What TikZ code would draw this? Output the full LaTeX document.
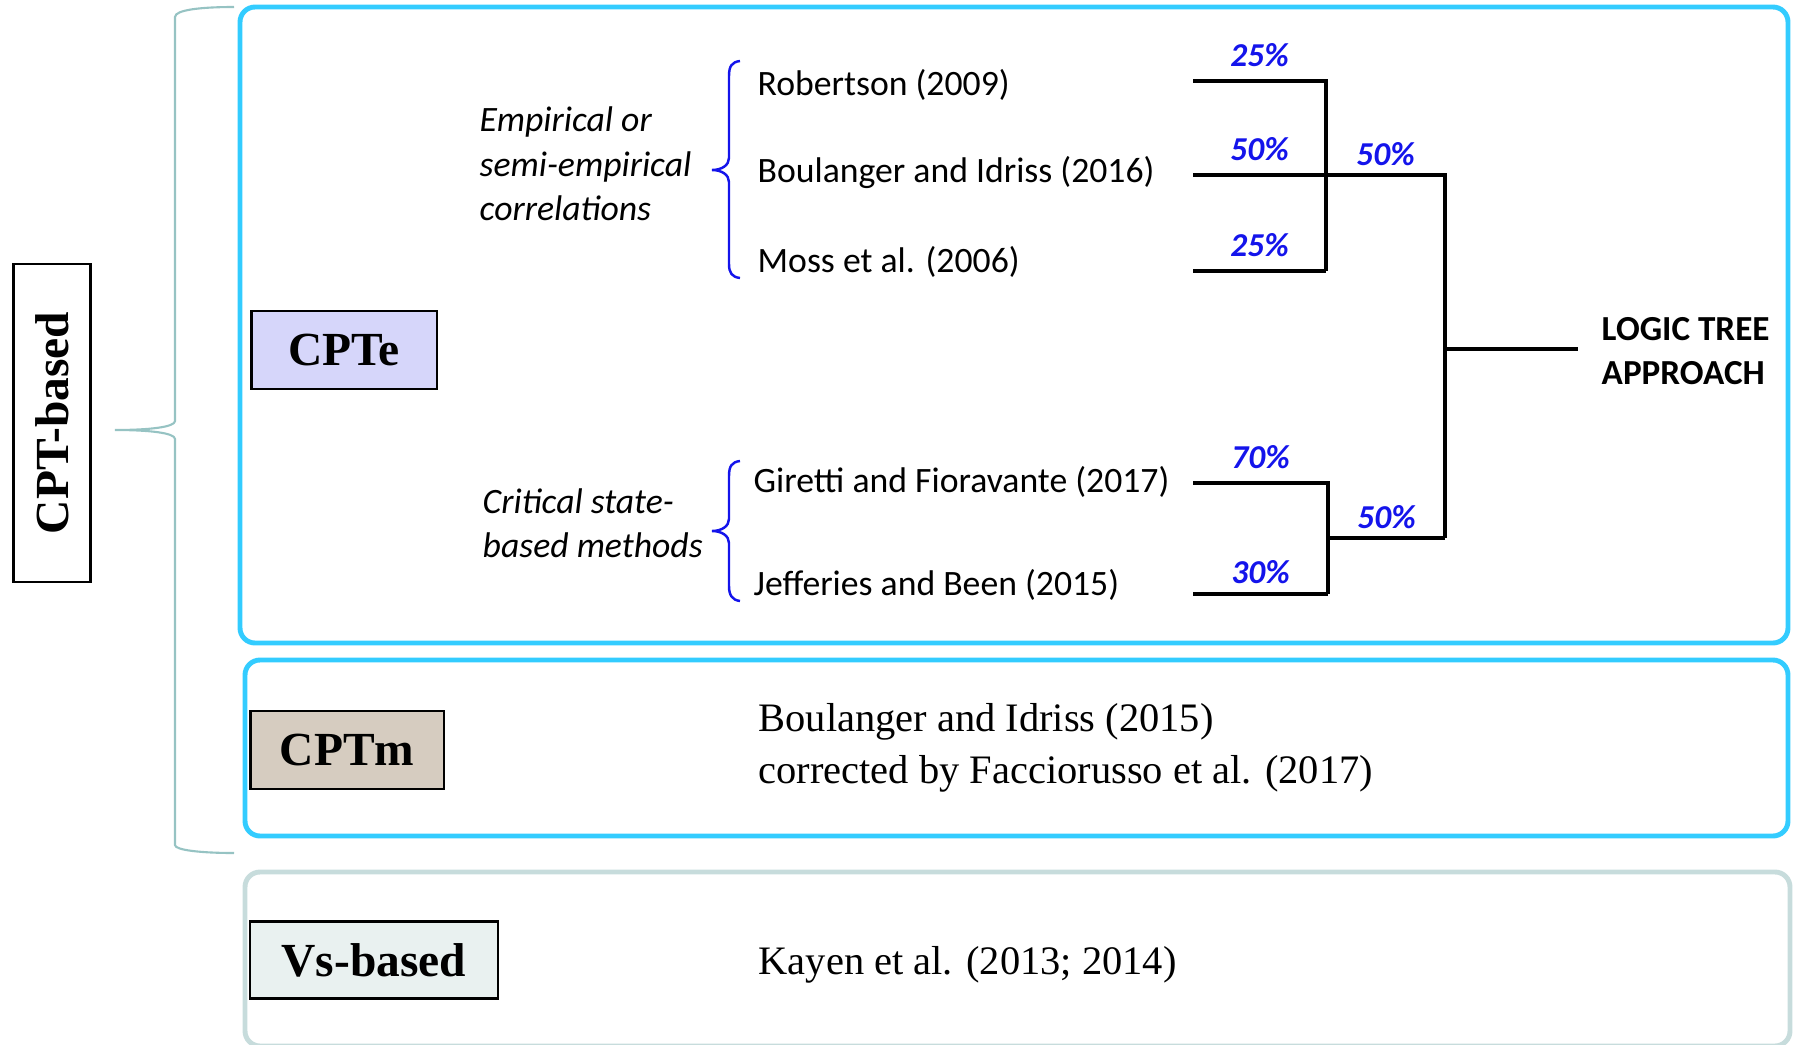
\documentclass[tikz,border=0pt]{standalone}
\usepackage{fontspec}
\setmainfont{Liberation Serif}
\newfontfamily\calibri{Carlito}
\usetikzlibrary{positioning}

\definecolor{frameblue}{RGB}{51,204,255}
\definecolor{framegrey}{RGB}{199,220,220}
\definecolor{bracegrey}{RGB}{150,195,195}
\definecolor{braceblue}{RGB}{20,20,235}
\definecolor{cptefill}{RGB}{214,214,250}
\definecolor{cptmfill}{RGB}{214,204,192}
\definecolor{vsfill}{RGB}{233,241,240}

\newcommand{\boxfont}{\bfseries\fontsize{13.5}{16}\selectfont}
\newcommand{\refsfont}{\fontsize{11.5}{14.8}\selectfont}
\newcommand{\treefont}{\calibri\fontsize{10.15}{12.6}\selectfont}

\tikzstyle{groupbox} = [line width=1.4pt, rounded corners=0.15cm]
\tikzstyle{labelbox} = [draw, line width=0.6pt, inner sep=0pt, font=\boxfont]
\tikzstyle{textnode} = [anchor=west, inner sep=0pt, align=left]
\tikzstyle{leaf} = [textnode, font=\treefont]
\tikzstyle{pct} = [above=3.5pt, inner sep=0pt, text=braceblue, font=\calibri\bfseries\itshape\fontsize{9.5}{11}\selectfont]
\tikzstyle{treeline} = [line width=1.1pt, line join=miter]
\tikzstyle{bluebrace} = [braceblue, line width=0.7pt]

\begin{document}
\begin{tikzpicture}[x=0.01cm, y=-0.01cm]
  \useasboundingbox (0,0) rectangle (1793,1045);

  % frames of the three groups
  \draw[groupbox, frameblue] (240,7) rectangle (1788,643);
  \draw[groupbox, frameblue] (245,660) rectangle (1788,836);
  \draw[groupbox, framegrey] (245,872) rectangle (1790,1046);

  % brace over CPTe and CPTm
  \draw[bracegrey, line width=0.6pt] (234,7) .. controls (200,7) and (175,10) .. (175,17)
    -- (175,421) .. controls (175,427) and (150,430) .. (115,430)
    .. controls (150,430) and (175,433) .. (175,439)
    -- (175,845) .. controls (175,850) and (200,853) .. (234,853);

  \node[labelbox, rotate=90, minimum width=3.18cm, minimum height=0.77cm] (cptbased) at (52,423) {CPT-based};
  \node[labelbox, fill=cptefill, minimum width=1.85cm, minimum height=0.78cm] (cpte) at (344,350) {CPTe};
  \node[labelbox, fill=cptmfill, minimum width=1.93cm, minimum height=0.78cm] (cptm) at (347,750) {CPTm};
  \node[labelbox, fill=vsfill, minimum width=2.47cm, minimum height=0.77cm] (vs) at (374,960) {Vs-based};

  % empirical correlations
  \node[leaf, font=\treefont\itshape] (emp) at (479,164) {Empirical or\\semi-empirical\\correlations};
  \node[leaf] (rob) at (757,85) {Robertson (2009)};
  \node[leaf] (bi16) at (757,173) {Boulanger and Idriss (2016)};
  \node[leaf] (moss) at (757,262) {Moss et al. (2006)};
  \draw[bluebrace] (740,61) .. controls (732,62) and (729,66) .. (729,76)
    -- (729,158) .. controls (729,165) and (722,170) .. (712,170)
    .. controls (722,170) and (729,175) .. (729,182)
    -- (729,264) .. controls (729,273) and (732,277) .. (740,278);

  % critical state methods
  \node[leaf, font=\treefont\itshape] (crit) at (482,523) {Critical state-\\based methods};
  \node[leaf] (gf) at (753,482) {Giretti and Fioravante (2017)};
  \node[leaf] (jb15) at (753,585) {Jefferies and Been (2015)};
  \draw[bluebrace] (740,461) .. controls (732,462) and (729,466) .. (729,476)
    -- (729,519) .. controls (729,526) and (722,531) .. (712,531)
    .. controls (722,531) and (729,536) .. (729,543)
    -- (729,586) .. controls (729,595) and (732,600) .. (740,601);

  % logic tree
  \coordinate (a1) at (1193,81);
  \coordinate (a2) at (1193,175);
  \coordinate (a3) at (1193,271);
  \coordinate (ja) at (1326,175);
  \coordinate (jc) at (1445,175);
  \coordinate (b1) at (1193,483);
  \coordinate (b2) at (1193,594);
  \coordinate (jb) at (1328,538);
  \coordinate (jd) at (1445,538);
  \coordinate (root) at (1445,349);
  \coordinate (out) at (1578,349);

  \draw[treeline] (a1) -- node[pct] {25\%} (a1 -| ja) -- (a3 -| ja);
  \draw[treeline] (a3) -- node[pct] {25\%} (a3 -| ja);
  \draw[treeline] (a2) -- node[pct] {50\%} (ja) -- node[pct, above=2pt] {50\%} (jc) -- (jd);
  \draw[treeline] (b1) -- node[pct] {70\%} (b1 -| jb) -- (b2 -| jb);
  \draw[treeline] (b2) -- node[pct, above=2.5pt] {30\%} (b2 -| jb);
  \draw[treeline] (jb) -- node[pct, above=2pt] {50\%} (jd);
  \draw[treeline] (root) -- (out);
  \node[leaf, font=\calibri\bfseries\fontsize{10}{12.5}\selectfont, right=0.23cm of out, yshift=-0.02cm] (logic) {LOGIC TREE\\APPROACH};

  % CPTm and Vs-based references
  \node[textnode, font=\refsfont] (bi15) at (758,748) {Boulanger and Idriss (2015)\\corrected by Facciorusso et al. (2017)};
  \node[textnode, font=\refsfont] (kayen) at (758,965) {Kayen et al. (2013; 2014)};
\end{tikzpicture}
\end{document}
